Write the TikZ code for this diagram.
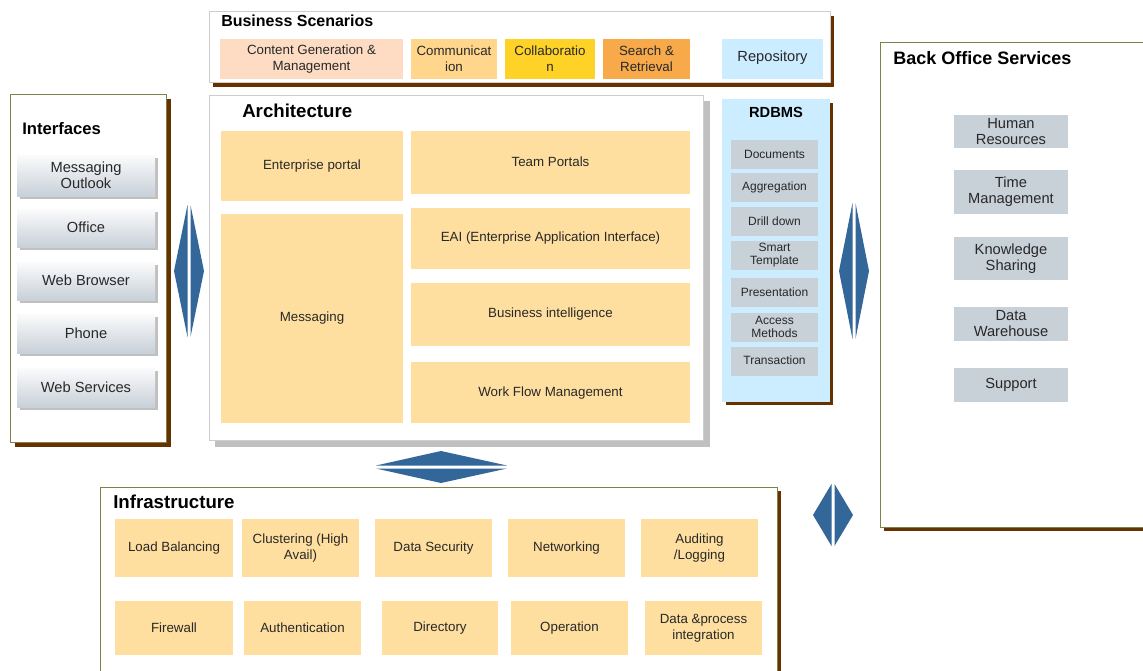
\documentclass[tikz,border=0pt]{standalone}
\usepackage{fontspec}
\setmainfont{Liberation Sans}
\definecolor{shadowbrown}{RGB}{102,51,0}
\definecolor{olive}{RGB}{128,128,72}
\definecolor{panelgray}{RGB}{205,205,205}
\definecolor{shadowgray}{RGB}{192,192,192}
\definecolor{orangefill}{RGB}{255,223,160}
\definecolor{peachfill}{RGB}{253,220,195}
\definecolor{commfill}{RGB}{255,214,140}
\definecolor{collabfill}{RGB}{255,210,40}
\definecolor{searchfill}{RGB}{248,170,75}
\definecolor{lightblue}{RGB}{204,236,255}
\definecolor{boxgray}{RGB}{200,208,216}
\definecolor{arrowblue}{RGB}{51,102,153}
\definecolor{textdark}{RGB}{40,40,40}
\begin{document}
\begin{tikzpicture}[x=0.75pt,y=0.75pt,yscale=-1,xscale=1,
  title/.style={font=\bfseries\fontsize{12}{14}\selectfont,anchor=west,inner sep=0pt},
  txt/.style={font=\fontsize{10}{12}\selectfont,align=center,text=textdark},
  smalltxt/.style={font=\fontsize{9}{9.5}\selectfont,align=center,text=textdark},
  bigtxt/.style={font=\fontsize{11}{12}\selectfont,align=center,text=textdark},
  ifbox/.style={top color=white!92!boxgray,bottom color=boxgray},
  dblarrow/.style={fill=arrowblue}]
\useasboundingbox (0,0) rectangle (1143,671);

%Shape: Business Scenarios [id:bs]
\fill [shadowbrown] (213,16) rectangle (834,87);
\draw [panelgray,fill=white] (209,11) rectangle (830,82);
\fill [peachfill] (220,39) rectangle (403,79);
\fill [commfill] (411,39) rectangle (497,79);
\fill [collabfill] (505,39) rectangle (595,79);
\fill [searchfill] (603,39) rectangle (690,79);
\fill [lightblue] (722,39) rectangle (823,79);

%Shape: Architecture [id:arch]
\fill [shadowgray] (215,101) rectangle (710,447);
\draw [panelgray,fill=white] (209,95) rectangle (703,440);
\fill [orangefill] (221,131) rectangle (403,201);
\fill [orangefill] (221,214) rectangle (403,423);
\fill [orangefill] (411,131) rectangle (690,194);
\fill [orangefill] (411,208) rectangle (690,269);
\fill [orangefill] (411,283) rectangle (690,346);
\fill [orangefill] (411,362) rectangle (690,423);

%Shape: RDBMS [id:rdbms]
\fill [shadowbrown] (726,103) rectangle (833,405);
\fill [lightblue] (722,99) rectangle (830,402);
\fill [boxgray] (731,140) rectangle (818,169);
\fill [boxgray] (731,173) rectangle (818,202);
\fill [boxgray] (731,207) rectangle (818,236);
\fill [boxgray] (731,241) rectangle (818,270);
\fill [boxgray] (731,278) rectangle (818,307);
\fill [boxgray] (731,313) rectangle (818,342);
\fill [boxgray] (731,347) rectangle (818,376);

%Shape: Interfaces [id:if]
\fill [shadowbrown] (15,99) rectangle (171,447);
\draw [olive,fill=white] (10,94) rectangle (166,442);
\fill [shadowgray] (20,158) rectangle (158,199);
\shade [ifbox] (17,155) rectangle (155,196);
\fill [shadowgray] (20,212) rectangle (158,250);
\shade [ifbox] (17,209) rectangle (155,247);
\fill [shadowgray] (20,265) rectangle (158,303);
\shade [ifbox] (17,262) rectangle (155,300);
\fill [shadowgray] (20,317) rectangle (158,356);
\shade [ifbox] (17,314) rectangle (155,353);
\fill [shadowgray] (20,371) rectangle (158,410);
\shade [ifbox] (17,368) rectangle (155,407);

%Shape: Back Office Services [id:bo]
\fill [shadowbrown] (884,46) rectangle (1150,531);
\draw [olive,fill=white] (880,42) rectangle (1150,527);
\fill [boxgray] (954,115) rectangle (1068,148);
\fill [boxgray] (954,170) rectangle (1068,214);
\fill [boxgray] (954,237) rectangle (1068,280);
\fill [boxgray] (954,307) rectangle (1068,341);
\fill [boxgray] (954,368) rectangle (1068,402);

%Shape: Infrastructure [id:infra]
\fill [shadowbrown] (104,491) rectangle (781,680);
\draw [olive,fill=white] (100,487) rectangle (777,680);
\fill [orangefill] (115,519) rectangle (233,577);
\fill [orangefill] (242,519) rectangle (359,577);
\fill [orangefill] (375,519) rectangle (492,577);
\fill [orangefill] (508,519) rectangle (625,577);
\fill [orangefill] (641,519) rectangle (758,577);
\fill [orangefill] (115,601) rectangle (233,655);
\fill [orangefill] (244,601) rectangle (361,655);
\fill [orangefill] (382,601) rectangle (498,655);
\fill [orangefill] (511,601) rectangle (628,655);
\fill [orangefill] (645,601) rectangle (762,655);

%Up Down Arrow [id:arrleft]
\fill [dblarrow] (187.5,205) -- (174,271) -- (187.5,337) -- cycle ;
\fill [dblarrow] (190.5,205) -- (204,271) -- (190.5,337) -- cycle ;
%Up Down Arrow [id:arrright]
\fill [dblarrow] (852.5,203) -- (839,271) -- (852.5,339) -- cycle ;
\fill [dblarrow] (855.5,203) -- (869,271) -- (855.5,339) -- cycle ;
%Up Down Arrow [id:arrlow]
\fill [dblarrow] (831.5,484) -- (813,515) -- (831.5,546) -- cycle ;
\fill [dblarrow] (834.5,484) -- (853,515) -- (834.5,546) -- cycle ;
%Left Right Arrow [id:arrbottom]
\fill [dblarrow] (376,465.5) -- (441,451) -- (507,465.5) -- cycle ;
\fill [dblarrow] (376,468.5) -- (441,483) -- (507,468.5) -- cycle ;

% Text Node
\draw (221,21) node (bstitle) [title] {Business Scenarios};
\draw (311.5,59) node (cgm) [txt] {Content Generation \&\\Management};
\draw (454,59) node (comm) [txt] {Communicat\\ion};
\draw (550,59) node (collab) [txt] {Collaboratio\\n};
\draw (646.5,59) node (search) [txt] {Search \&\\Retrieval};
\draw (772.5,58) node (repo) [bigtxt] {Repository};
% Text Node
\draw (242,111) node (archtitle) [title,font=\bfseries\fontsize{14}{16}\selectfont] {Architecture};
\draw (312,166) node (entportal) [txt] {Enterprise portal};
\draw (312,318) node (messaging) [txt] {Messaging};
\draw (550.5,162) node (teamportals) [txt] {Team Portals};
\draw (550.5,238) node (eai) [txt] {EAI (Enterprise Application Interface)};
\draw (550.5,314) node (bi) [txt] {Business intelligence};
\draw (550.5,393) node (workflow) [txt] {Work Flow Management};
% Text Node
\draw (776,112) node (rdbms) [font=\bfseries\fontsize{11}{12}\selectfont] {RDBMS};
\draw (774.5,154) node (docs) [smalltxt] {Documents};
\draw (774.5,187) node (aggr) [smalltxt] {Aggregation};
\draw (774.5,221) node (drill) [smalltxt] {Drill down};
\draw (774.5,255) node (smart) [smalltxt] {Smart\\Template};
\draw (774.5,292) node (present) [smalltxt] {Presentation};
\draw (774.5,327) node (access) [smalltxt] {Access\\Methods};
\draw (774.5,360) node (trans) [smalltxt] {Transaction};
% Text Node
\draw (22,129) node (iftitle) [title,font=\bfseries\fontsize{12.5}{14}\selectfont] {Interfaces};
\draw (86,175) node (outlook) [bigtxt] {Messaging\\Outlook};
\draw (86,227) node (office) [bigtxt] {Office};
\draw (86,280) node (browser) [bigtxt] {Web Browser};
\draw (86,333) node (phone) [bigtxt] {Phone};
\draw (86,387) node (websvc) [bigtxt] {Web Services};
% Text Node
\draw (893,58) node (botitle) [title,font=\bfseries\fontsize{13.5}{15}\selectfont] {Back Office Services};
\draw (1011,131.5) node (hr) [bigtxt] {Human\\Resources};
\draw (1011,192) node (time) [bigtxt] {Time\\Management};
\draw (1011,258.5) node (knowledge) [bigtxt] {Knowledge\\Sharing};
\draw (1011,324) node (dwh) [bigtxt] {Data\\Warehouse};
\draw (1011,385) node (support) [bigtxt] {Support};
% Text Node
\draw (113,502) node (infratitle) [title,font=\bfseries\fontsize{14}{16}\selectfont] {Infrastructure};
\draw (174,548) node (loadbal) [txt] {Load Balancing};
\draw (300.5,548) node (cluster) [txt] {Clustering (High\\Avail)};
\draw (433.5,548) node (datasec) [txt] {Data Security};
\draw (566.5,548) node (network) [txt] {Networking};
\draw (699.5,548) node (audit) [txt] {Auditing\\/Logging};
\draw (174,628) node (firewall) [txt] {Firewall};
\draw (302.5,628) node (authn) [txt] {Authentication};
\draw (440,628) node (directory) [txt] {Directory};
\draw (569.5,628) node (operation) [txt] {Operation};
\draw (703.5,628) node (dataproc) [txt] {Data \&process\\integration};

\end{tikzpicture}
\end{document}
